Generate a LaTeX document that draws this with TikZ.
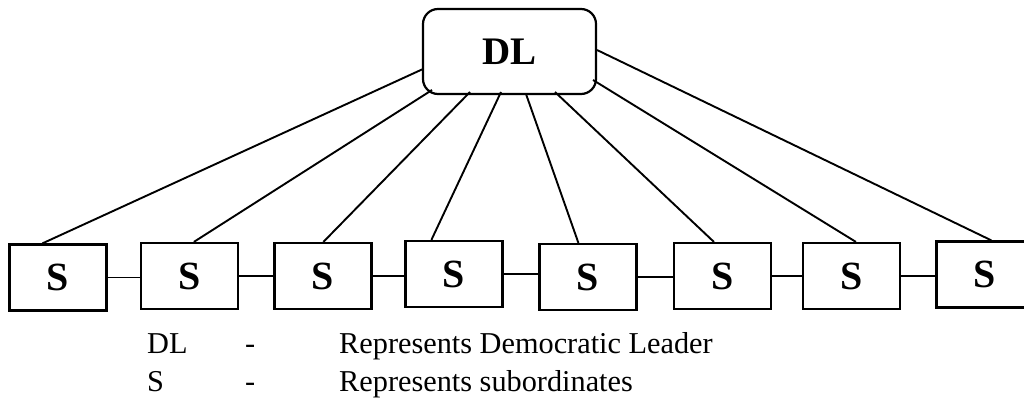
\documentclass[tikz,border=0pt]{standalone}
\usepackage{fontspec}
\setmainfont{Liberation Serif}
\usetikzlibrary{calc}

\begin{document}
\begin{tikzpicture}[x=1pt,y=-1pt,
  ldr/.style={draw,line width=2.2pt,rounded corners=15pt,minimum width=173pt,minimum height=85pt,font=\fontsize{39}{42}\selectfont\bfseries},
  sub/.style={draw,line width=2.2pt,minimum width=97pt,minimum height=66pt,font=\fontsize{40}{42}\selectfont\bfseries},
  ln/.style={line width=1.9pt},
  key/.style={anchor=base west,inner sep=0pt,font=\fontsize{30.3}{32}\selectfont}]
\useasboundingbox (0,0) rectangle (1024,398);
% leader
\node[ldr] (dl) at (509.5,51.5) {DL};
% subordinates
\foreach \i/\x/\y in {1/58/277.5,2/189.5/276,3/323/276,4/454/274,5/588/277,6/722.5/276,7/851.5/276,8/985/274.5}
  \node[sub] (s\i) at (\x,\y) {S};
\foreach \x/\y in {s1/s2,s2/s3,s3/s4,s4/s5,s5/s6,s6/s7,s7/s8} \draw[ln] (\x)--(\x -| \y.west);
% leader to each subordinate
\foreach \i/\a/\b/\c in {1/-86.5/17.5/34,2/-77.5/38.5/54,3/-39.5/40.5/50,4/-8.5/40.5/27,5/16.5/42.5/40,6/45.5/40.5/41,7/83.5/28.5/54,8/87.5/-1.5/56}
  \draw[ln] ($(dl.center)+(\a,\b)$)--($(s\i.north west)+(\c,0)$);
% key
\node[key] (kdl) at (147,353) {DL};
\node[key] (kdld) at (245,353) {-};
\node[key] (kdlt) at (339,353) {Represents Democratic Leader};
\node[key] (ks) at (147,391) {S};
\node[key] (ksd) at (245,391) {-};
\node[key] (kst) at (339,391) {Represents subordinates};
\end{tikzpicture}
\end{document}
